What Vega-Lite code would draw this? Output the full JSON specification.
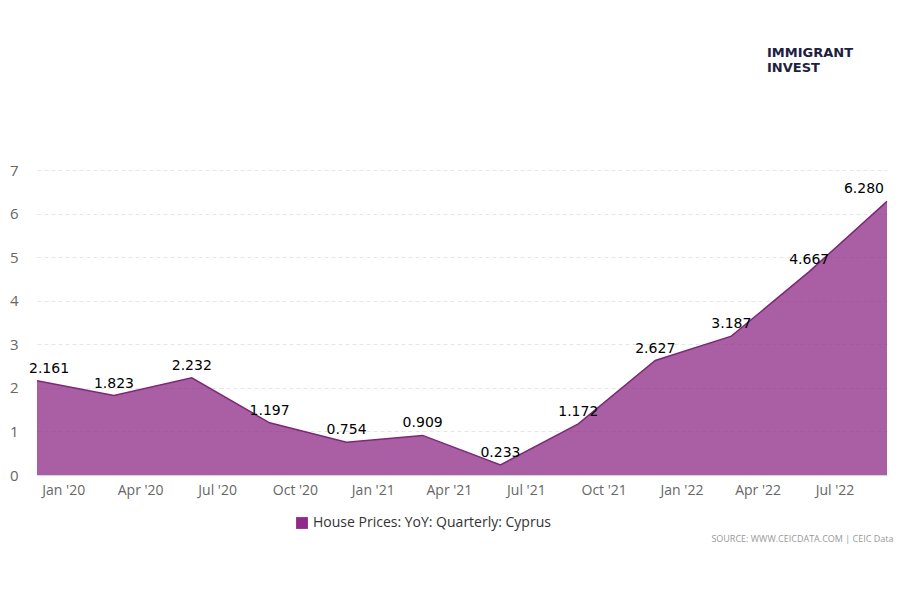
{
  "$schema": "https://vega.github.io/schema/vega-lite/v6.json",
  "autosize": {"type": "none"},
  "width": 850,
  "height": 305,
  "padding": {"left": 37, "top": 170, "right": 13, "bottom": 125},
  "background": "white",
  "title": {
    "text": ["IMMIGRANT", "INVEST"],
    "anchor": "end",
    "align": "left",
    "dx": -126,
    "offset": 88,
    "font": "DejaVu Sans",
    "fontSize": 13,
    "fontWeight": "bold",
    "lineHeight": 15,
    "color": "#1c2140"
  },
  "config": {
    "view": {"stroke": null},
    "font": "Open Sans"
  },
  "data": {
    "values": [
      {"date": "2019-12-01", "value": 2.161, "series": "House Prices: YoY: Quarterly: Cyprus"},
      {"date": "2020-03-01", "value": 1.823, "series": "House Prices: YoY: Quarterly: Cyprus"},
      {"date": "2020-06-01", "value": 2.232, "series": "House Prices: YoY: Quarterly: Cyprus"},
      {"date": "2020-09-01", "value": 1.197, "series": "House Prices: YoY: Quarterly: Cyprus"},
      {"date": "2020-12-01", "value": 0.754, "series": "House Prices: YoY: Quarterly: Cyprus"},
      {"date": "2021-03-01", "value": 0.909, "series": "House Prices: YoY: Quarterly: Cyprus"},
      {"date": "2021-06-01", "value": 0.233, "series": "House Prices: YoY: Quarterly: Cyprus"},
      {"date": "2021-09-01", "value": 1.172, "series": "House Prices: YoY: Quarterly: Cyprus"},
      {"date": "2021-12-01", "value": 2.627, "series": "House Prices: YoY: Quarterly: Cyprus"},
      {"date": "2022-03-01", "value": 3.187, "series": "House Prices: YoY: Quarterly: Cyprus"},
      {"date": "2022-06-01", "value": 4.667, "series": "House Prices: YoY: Quarterly: Cyprus"},
      {"date": "2022-09-01", "value": 6.280, "series": "House Prices: YoY: Quarterly: Cyprus"}
    ]
  },
  "encoding": {
    "x": {
      "field": "date",
      "type": "temporal",
      "scale": {"type": "utc", "domain": [{"year": 2019, "month": 12, "date": 1, "utc": true}, {"year": 2022, "month": 9, "date": 1, "utc": true}]},
      "axis": {
        "labelExpr": "utcFormat(datum.value, \"%b '%y\")",
        "tickCount": {"interval": "month", "step": 3},
        "grid": false,
        "ticks": false,
        "domain": true,
        "domainColor": "#ccd6eb",
        "labelColor": "#666666",
        "labelFontSize": 14,
        "labelPadding": 8,
        "labelFont": "Open Sans",
        "title": "SOURCE: WWW.CEICDATA.COM | CEIC Data",
        "titleX": 856,
        "titleY": 63,
        "titleAlign": "right",
        "titleBaseline": "middle",
        "titleFontSize": 9,
        "titleFontWeight": "normal",
        "titleColor": "#999999",
        "titleFont": "Open Sans"
      }
    },
    "y": {
      "field": "value",
      "type": "quantitative",
      "scale": {"domain": [0, 7], "nice": false},
      "axis": {
        "values": [0, 1, 2, 3, 4, 5, 6, 7],
        "title": null,
        "domain": false,
        "ticks": false,
        "grid": true,
        "gridDash": [4, 3],
        "gridColor": "#e6e6e6",
        "labelColor": "#666666",
        "labelFontSize": 15,
        "labelPadding": 19,
        "labelFont": "Open Sans"
      }
    }
  },
  "layer": [
    {
      "mark": {"type": "area", "fillOpacity": 0.75},
      "encoding": {
        "fill": {
          "field": "series",
          "type": "nominal",
          "scale": {"range": ["#8e2a87"]},
          "legend": {
            "orient": "none",
            "legendX": 258,
            "legendY": 346,
            "title": null,
            "symbolType": "square",
            "symbolSize": 140,
            "symbolOpacity": 1,
            "symbolStrokeWidth": 0,
            "labelFontSize": 14,
            "labelLimit": 400,
            "labelColor": "#333333",
            "labelFont": "Open Sans"
          }
        }
      }
    },
    {
      "mark": {"type": "line", "stroke": "#7a2a74", "strokeWidth": 1.5},
      "encoding": {}
    },
    {
      "transform": [{"filter": "datum.value < 6 && datum.value != 2.161"}],
      "mark": {"type": "text", "baseline": "bottom", "dy": -5, "fontSize": 14, "font": "DejaVu Sans", "fill": "#000000"},
      "encoding": {
        "text": {"field": "value", "type": "quantitative", "format": ".3f"}
      }
    },
    {
      "transform": [{"filter": "datum.value == 2.161"}],
      "mark": {"type": "text", "baseline": "bottom", "align": "left", "dx": -8, "dy": -5, "fontSize": 14, "font": "DejaVu Sans", "fill": "#000000"},
      "encoding": {
        "text": {"field": "value", "type": "quantitative", "format": ".3f"}
      }
    },
    {
      "transform": [{"filter": "datum.value >= 6"}],
      "mark": {"type": "text", "baseline": "bottom", "align": "right", "dx": -3, "dy": -5, "fontSize": 14, "font": "DejaVu Sans", "fill": "#000000"},
      "encoding": {
        "text": {"field": "value", "type": "quantitative", "format": ".3f"}
      }
    }
  ]
}
